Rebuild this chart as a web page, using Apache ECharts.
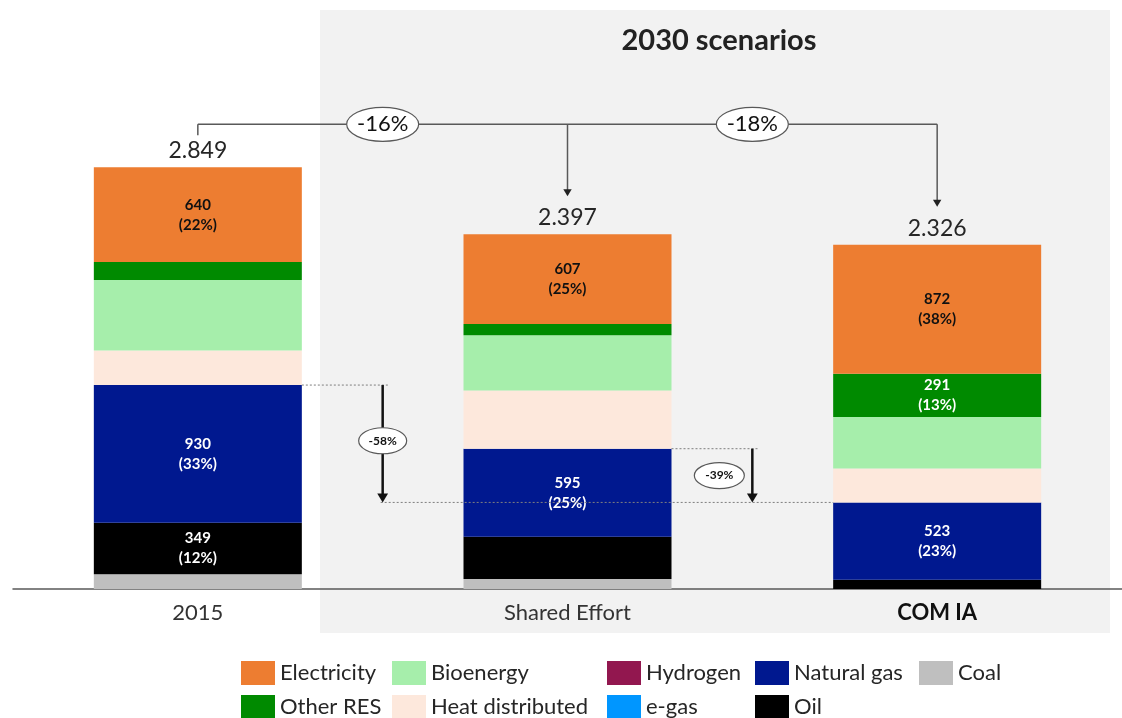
<!DOCTYPE html>
<html>
<head>
<meta charset="utf-8">
<script src="https://cdn.jsdelivr.net/npm/echarts@6/dist/echarts.min.js"></script>
<style>
html,body{margin:0;padding:0;background:#fff;}
#main{width:1122px;height:718px;}
</style>
</head>
<body>
<div id="main"></div>
<script>
// ---- data ----
const categories = ['2015', 'Shared Effort', 'COM IA'];
const coal = [99, 68, 0];
const oil = [349, 285, 62];
const naturalGas = [930, 595, 523];
const eGas = [0, 0, 0];
const hydrogen = [0, 0, 0];
const heatDistributed = [234, 394, 230];
const bioenergy = [476, 373, 348];
const otherRES = [121, 75, 291];
const electricity = [640, 607, 872];
const totals = [2849, 2397, 2326];
// shares shown in the segment labels (null = no label)
const electricityPct = [22, 25, 38];
const otherRESPct = [null, null, 13];
const naturalGasPct = [33, 25, 23];
const oilPct = [12, null, null];
// annotations
const changeTotalsLabels = ['-16%', '-18%'];
const changeGasLabels = ['-58%', '-39%'];
const titleText = '2030 scenarios';

const FONT = 'Lato, "Open Sans", sans-serif';
const BAR_W = 208;

const chart = echarts.init(document.getElementById('main'), null, {renderer: 'canvas'});

function segLabel(pcts, color) {
  return {
    show: true,
    position: 'inside',
    color: color,
    fontFamily: FONT,
    fontWeight: 'bold',
    fontSize: 15,
    lineHeight: 20,
    formatter: p => pcts[p.dataIndex] == null ? '' : p.value + '\n(' + pcts[p.dataIndex] + '%)'
  };
}
function fmtThousands(v) {
  return String(v).replace(/\B(?=(\d{3})+(?!\d))/g, '.');
}
function bar(name, data, color, label) {
  return {
    name: name, type: 'bar', stack: 'total', data: data, barWidth: BAR_W,
    itemStyle: {color: color},
    label: label || {show: false},
    emphasis: {disabled: true}
  };
}

const series = [
  bar('Coal', coal, '#BFBFBF'),
  bar('Oil', oil, '#000000', segLabel(oilPct, '#ffffff')),
  bar('Natural gas', naturalGas, '#00188F', segLabel(naturalGasPct, '#ffffff')),
  bar('e-gas', eGas, '#0096FF'),
  bar('Hydrogen', hydrogen, '#92174F'),
  bar('Heat distributed', heatDistributed, '#FDE8DC'),
  bar('Bioenergy', bioenergy, '#A6EEAB'),
  bar('Other RES', otherRES, '#008A00', segLabel(otherRESPct, '#ffffff')),
  bar('Electricity', electricity, '#ED7D31', segLabel(electricityPct, '#111111')),
  {
    name: 'Total', type: 'bar', stack: 'total', data: totals.map(() => 0), barWidth: BAR_W,
    itemStyle: {color: 'transparent'},
    label: {
      show: true, position: 'top', distance: 5,
      fontFamily: FONT, fontSize: 23, color: '#262626',
      formatter: p => fmtThousands(totals[p.dataIndex])
    },
    emphasis: {disabled: true}
  }
];

const legendCommon = {
  orient: 'vertical', itemWidth: 34, itemHeight: 24, itemGap: 10, icon: 'rect',
  selectedMode: false, top: 661, height: 90, padding: 0,
  textStyle: {fontFamily: FONT, fontSize: 22, lineHeight: 24, color: '#262626'}
};

chart.setOption({
  animation: false,
  backgroundColor: '#ffffff',
  title: {
    text: titleText, left: 714, top: 21, textAlign: 'center', z: 10,
    textStyle: {fontFamily: FONT, fontWeight: 'bold', fontSize: 29, color: '#222222'}
  },
  grid: {left: 13, right: -12, top: 145, bottom: 129, containLabel: false},
  xAxis: {
    type: 'category', data: categories,
    axisLine: {lineStyle: {color: '#595959', width: 1.5}},
    axisTick: {show: false},
    axisLabel: {
      margin: 13, fontFamily: FONT, fontSize: 22, color: '#333333',
      formatter: v => v === 'COM IA' ? '{b|' + v + '}' : v,
      rich: {b: {fontFamily: FONT, fontSize: 22, fontWeight: 'bold', color: '#111111'}}
    }
  },
  yAxis: {type: 'value', min: 0, max: 3000, show: false},
  legend: [
    Object.assign({}, legendCommon, {left: 241, data: ['Electricity', 'Other RES']}),
    Object.assign({}, legendCommon, {left: 392, data: ['Bioenergy', 'Heat distributed']}),
    Object.assign({}, legendCommon, {left: 607, data: ['Hydrogen', 'e-gas']}),
    Object.assign({}, legendCommon, {left: 755, data: ['Natural gas', 'Oil']}),
    Object.assign({}, legendCommon, {left: 919, data: ['Coal']})
  ],
  series: series
});

// ---- annotations positioned through the chart's scales ----
function px(i, v) { return chart.convertToPixel({gridIndex: 0}, [i, v]); }
function cum(i, upto) {
  const stack = [coal, oil, naturalGas];
  let s = 0;
  for (let k = 0; k < stack.length && k <= upto; k++) s += stack[k][i];
  return s;
}
const tops = totals.map((t, i) => px(i, t));
const gasTop = [0, 1, 2].map(i => px(i, cum(i, 2)));
const xc = tops.map(p => p[0]);

const g = [{
  type: 'rect', z: -100, silent: true,
  shape: {x: 320, y: 10, width: 790, height: 623},
  style: {fill: '#F2F2F2'}
}];
const connColor = '#595959';
function line(x1, y1, x2, y2, stroke, w, dash) {
  g.push({type: 'line', z: 50, silent: true, shape: {x1, y1, x2, y2},
    style: {stroke, lineWidth: w, lineDash: dash || null}});
}
function arrowHead(x, y, size, color) {
  g.push({type: 'polygon', z: 51, silent: true,
    shape: {points: [[x - size * 0.6, y - size], [x + size * 0.6, y - size], [x, y]]},
    style: {fill: color}});
}
function oval(cx, cy, rx, ry, text, fs, bold) {
  g.push({type: 'ellipse', z: 52, silent: true, shape: {cx, cy, rx, ry},
    style: {fill: '#ffffff', stroke: '#595959', lineWidth: 1.2}});
  g.push({type: 'text', z: 53, silent: true, x: cx, y: cy,
    style: {text, fontFamily: FONT, fontSize: fs, fontWeight: bold ? 'bold' : 'normal',
      fill: '#111111', align: 'center', verticalAlign: 'middle'}});
}

// total change connector
const yConn = tops[0][1] - 43;
line(xc[0], tops[0][1] - 32, xc[0], yConn, connColor, 1.5);
line(xc[0], yConn, xc[2], yConn, connColor, 1.5);
for (let i = 1; i <= 2; i++) {
  const tip = tops[i][1] - 38;
  line(xc[i], yConn, xc[i], tip - 6, connColor, 1.5);
  arrowHead(xc[i], tip, 7, '#222222');
}
oval((xc[0] + xc[1]) / 2, yConn, 36, 17, changeTotalsLabels[0], 22, false);
oval((xc[1] + xc[2]) / 2, yConn, 36, 17, changeTotalsLabels[1], 22, false);

// natural gas change arrows
const dotColor = '#7F7F7F';
const dash = [2, 2];
const xA = (xc[0] + BAR_W / 2 + xc[1] - BAR_W / 2) / 2;
const xB = (xc[1] + BAR_W / 2 + xc[2] - BAR_W / 2) / 2;
const yGasEnd = gasTop[2][1];
line(xc[0] + BAR_W / 2, gasTop[0][1], xA + 6, gasTop[0][1], dotColor, 1, dash);
line(xA - 2, yGasEnd, xc[2] - BAR_W / 2, yGasEnd, dotColor, 1, dash);
line(xA, gasTop[0][1], xA, yGasEnd - 8, '#111111', 2.5);
arrowHead(xA, yGasEnd, 9, '#111111');
oval(xA, (gasTop[0][1] + yGasEnd) / 2 - 3, 24, 13, changeGasLabels[0], 12, true);

line(xc[1] + BAR_W / 2, gasTop[1][1], xB + 6, gasTop[1][1], dotColor, 1, dash);
line(xB, gasTop[1][1], xB, yGasEnd - 8, '#111111', 2.5);
arrowHead(xB, yGasEnd, 9, '#111111');
oval(xB - 33, (gasTop[1][1] + yGasEnd) / 2, 25, 13, changeGasLabels[1], 12, true);

chart.setOption({graphic: {elements: g}});
</script>
</body>
</html>
